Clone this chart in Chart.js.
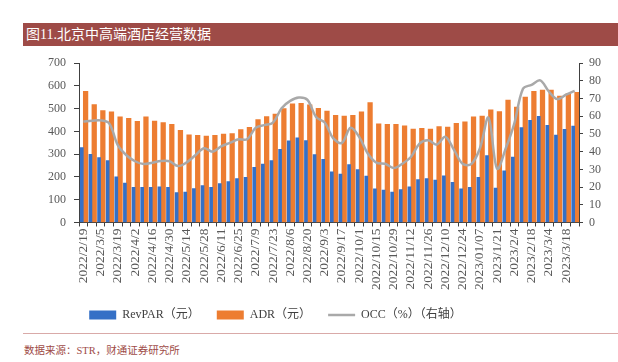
<!DOCTYPE html>
<html>
<head>
<meta charset="utf-8">
<script src="https://cdn.jsdelivr.net/npm/chart.js@4.4.1/dist/chart.umd.min.js"></script>
<style>
  body { margin: 0; background: #fff; width: 618px; height: 362px; position: relative; overflow: hidden; }
  #title { position: absolute; left: 23px; top: 23px; width: 595px; height: 23px; background: #9E4B47;
    color: #fff; font: 14px "Liberation Serif", "Noto Sans CJK SC", serif; line-height: 23px; padding-left: 3px; box-sizing: border-box; }
  #wrap { position: absolute; left: 0; top: 48px; width: 618px; height: 283px; }
  #rule { position: absolute; left: 23px; top: 333px; width: 595px; height: 1px; background: #D9AAA8; }
  #source { position: absolute; left: 24px; top: 342px; font: 10.5px "Liberation Serif", "Noto Sans CJK SC", serif; color: #9E4B47; }
</style>
</head>
<body>
<div id="title">图11.北京中高端酒店经营数据</div>
<div id="wrap"><canvas id="chart"></canvas></div>
<div id="rule"></div>
<div id="source">数据来源：STR，财通证券研究所</div>
<script>
const weeks = [
  '2022/2/19', '2022/2/26', '2022/3/5', '2022/3/12', '2022/3/19', '2022/3/26',
  '2022/4/2', '2022/4/9', '2022/4/16', '2022/4/23', '2022/4/30', '2022/5/7',
  '2022/5/14', '2022/5/21', '2022/5/28', '2022/6/4', '2022/6/11', '2022/6/18',
  '2022/6/25', '2022/7/2', '2022/7/9', '2022/7/16', '2022/7/23', '2022/7/30',
  '2022/8/6', '2022/8/13', '2022/8/20', '2022/8/27', '2022/9/3', '2022/9/10',
  '2022/9/17', '2022/9/24', '2022/10/1', '2022/10/8', '2022/10/15', '2022/10/22',
  '2022/10/29', '2022/11/5', '2022/11/12', '2022/11/19', '2022/11/26', '2022/12/3',
  '2022/12/10', '2022/12/17', '2022/12/24', '2022/12/31', '2023/01/07', '2023/1/14',
  '2023/1/21', '2023/1/28', '2023/2/4', '2023/2/11', '2023/2/18', '2023/2/25',
  '2023/3/4', '2023/3/11', '2023/3/18', '2023/3/25'
];

const revpar = [
  329, 300, 285, 272, 201, 173, 154, 155, 154, 157,
  154, 131, 134, 149, 162, 155, 171, 180, 193, 198,
  242, 257, 272, 322, 359, 372, 360, 298, 278, 223,
  213, 254, 233, 204, 148, 143, 134, 145, 157, 189,
  193, 186, 205, 177, 148, 155, 199, 294, 151, 227,
  287, 417, 449, 467, 427, 384, 409, 424
];

const adr = [
  576, 518, 492, 486, 464, 458, 445, 464, 446, 439,
  431, 405, 385, 383, 380, 383, 388, 391, 408, 418,
  452, 465, 476, 501, 521, 524, 517, 502, 490, 471,
  468, 471, 486, 527, 434, 431, 431, 425, 411, 414,
  411, 422, 419, 436, 442, 464, 468, 495, 487, 538,
  507, 551, 576, 582, 582, 555, 567, 572
];

const occ = [
  57, 57.5, 57.7, 56, 43.7, 38, 34.6, 33, 33.8, 34.7,
  34.6, 31.9, 34, 38, 42, 40, 43, 45, 47, 47,
  53.5, 55, 56.4, 64.6, 68.7, 70.6, 69.3, 59.6, 56.5, 47.5,
  45, 53.5, 48.4, 39, 33.8, 33.2, 30.8, 33.2, 37, 44.6,
  46.5, 44, 48.4, 41, 33.2, 33, 41.8, 59.2, 30.4, 41.8,
  56, 75.6, 77.8, 80.3, 74, 69.7, 72.2, 74.4
];

const seriesNames = ['RevPAR（元）', 'ADR（元）', 'OCC（%）（右轴）'];

Chart.defaults.font.family = '"Liberation Serif", "Noto Sans CJK SC", serif';
Chart.defaults.color = '#595959';

const datasets = [
  {
    type: 'bar',
    label: seriesNames[0],
    data: revpar,
    backgroundColor: '#3570C6',
    barThickness: 3,
    pointStyle: 'rect',
    yAxisID: 'y',
    order: 1
  },
  {
    type: 'bar',
    label: seriesNames[1],
    data: adr,
    backgroundColor: '#ED7D31',
    barThickness: 4.6,
    pointStyle: 'rect',
    yAxisID: 'y',
    order: 1
  },
  {
    type: 'line',
    label: seriesNames[2],
    data: occ,
    borderColor: '#A9A9A9',
    backgroundColor: '#A9A9A9',
    borderWidth: 2.5,
    pointRadius: 0,
    pointStyle: 'line',
    tension: 0.35,
    yAxisID: 'y1',
    order: 0
  }
];

// the legend in the source sits left of centre
const legendShift = {
  id: 'legendShift',
  afterLayout(chart) {
    chart.legend.left -= 48;
    chart.legend.right -= 48;
  }
};

const myChart = new Chart(document.getElementById('chart'), {
  data: { labels: weeks, datasets: datasets },
  plugins: [legendShift],
  options: {
    responsive: true,
    maintainAspectRatio: false,
    animation: false,
    layout: { padding: { top: 10, left: 40, right: 11, bottom: 0 } },
    plugins: {
      tooltip: { enabled: false },
      legend: {
        position: 'bottom',
        labels: {
          usePointStyle: true,
          pointStyleWidth: 27,
          boxHeight: 9,
          padding: 17,
          color: '#404040',
          font: { size: 12 },
          sort: (a, b) => a.datasetIndex - b.datasetIndex
        }
      }
    },
    scales: {
      x: {
        offset: true,
        grid: { display: true, drawOnChartArea: false, tickLength: 4, tickColor: '#404040' },
        border: { color: '#404040', width: 1 },
        ticks: {
          autoSkip: false,
          minRotation: 90,
          maxRotation: 90,
          padding: 2,
          font: { size: 13.5 },
          callback: function (value, index) {
            return index % 2 === 0 ? this.getLabelForValue(value) : '';
          }
        }
      },
      y: {
        position: 'left',
        min: 0,
        max: 700,
        ticks: { stepSize: 100, padding: 8, font: { size: 12 } },
        grid: { display: true, drawOnChartArea: false, tickLength: 5, tickColor: '#404040' },
        border: { color: '#404040', width: 1 }
      },
      y1: {
        position: 'right',
        min: 0,
        max: 90,
        ticks: { stepSize: 10, padding: 6, font: { size: 12 } },
        grid: { display: true, drawOnChartArea: false, tickLength: 4, tickColor: '#404040' },
        border: { color: '#404040', width: 1 }
      }
    }
  }
});
</script>
</body>
</html>
